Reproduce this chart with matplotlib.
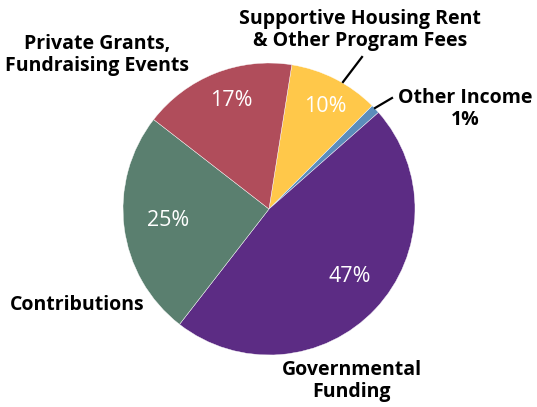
import matplotlib
matplotlib.use("Agg")
from matplotlib import pyplot as plt

# clockwise from the top
labels = ["Supportive Housing Rent\n& Other Program Fees", "Other Income\n1%",
          "Governmental\nFunding", "Contributions", "Private Grants,\nFundraising Events"]
shares = [10, 1, 47, 25, 17]
pct_text = ["10%", "", "47%", "25%", "17%"]
colors = ["#FFC84A", "#5B8DBB", "#5C2C84", "#5A7F6F", "#B04D5B"]

W, H = 537, 407
fig = plt.figure(figsize=(W / 100, H / 100), dpi=100)
ax = fig.add_axes([0, 0, 1, 1])

cx, cy, r = 269, H - 209, 146
wedges, _ = ax.pie(shares, colors=colors, startangle=81, counterclock=False,
                   center=(cx, cy), radius=r, frame=True,
                   wedgeprops=dict(linewidth=0.3, edgecolor="white"))
ax.set_xlim(0, W)
ax.set_ylim(0, H)
ax.set_aspect("equal")
ax.axis("off")

# percentage labels inside the slices (pixel positions, y from top)
pct_pos = [(325, 107), None, (350, 277), (168, 221), (231, 101)]
for txt, pos in zip(pct_text, pct_pos):
    if pos:
        ax.text(pos[0], H - pos[1], txt, color="white", fontsize=15.5,
                family="Open Sans", ha="center", va="center")

lab_pos = [(360, 30), (465, 109), (352, 381), (77, 305), (97, 55)]
for lab, pos in zip(labels, lab_pos):
    ax.text(pos[0], H - pos[1], lab, fontsize=14, family="Open Sans",
            fontweight="bold", ha="center", va="center", linespacing=1.12)

# leader lines
ax.plot([343, 362], [H - 82, H - 57], color="black", lw=1.6)
ax.plot([375, 392], [H - 108, H - 98], color="black", lw=1.6)

fig.savefig("out.png", dpi=100)
